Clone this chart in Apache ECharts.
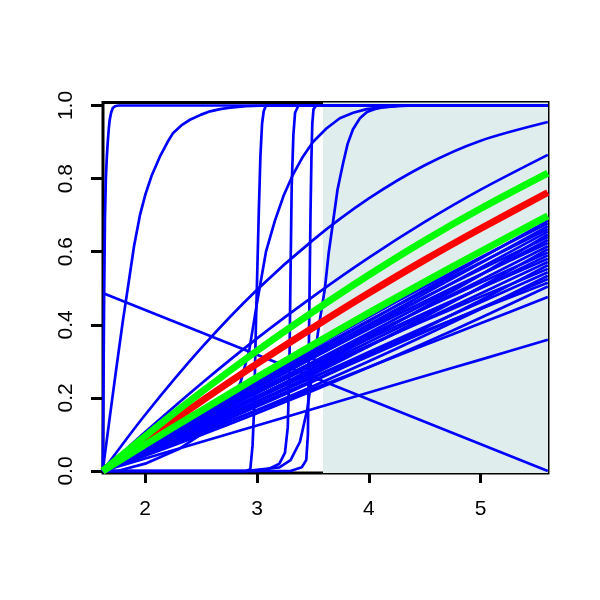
<!DOCTYPE html>
<html><head><meta charset="utf-8">
<script src="https://cdn.jsdelivr.net/npm/echarts@6/dist/echarts.min.js"></script>
<style>html,body{margin:0;padding:0;background:#fff}#c{width:600px;height:600px}</style>
</head><body><div id="c"></div>
<script>
// ---- axis ticks / ranges ----
const xTicks = [2, 3, 4, 5];
const yTicks = [0, 0.2, 0.4, 0.6, 0.8, 1.0];
const xMin = 1.6226, xMax = 5.6018;
const yMin = -0.0055, yMax = 1.0082;
const shadeFrom = 3.59;

// ---- near-linear fan of blue curves, sampled at fanX ----
const fanX = [1.62, 2.0, 2.5, 3.0, 3.5, 4.0, 4.5, 5.0, 5.6];
const blueFan = [
  [0, .0654, .1514, .2377, .3233, .4096, .4959, .5816, .685],
  [0, .0706, .1615, .2507, .3369, .4217, .5044, .5843, .678],
  [0, .0640, .1481, .2325, .3162, .4007, .4851, .5688, .670],
  [0, .0689, .1577, .2447, .3289, .4118, .4925, .5705, .662],
  [0, .0626, .1448, .2273, .3092, .3917, .4742, .5561, .655],
  [0, .0534, .1263, .2025, .2812, .3635, .4490, .5368, .647],
  [0, .0666, .1524, .2366, .3180, .3981, .4762, .5516, .640],
  [0, .0604, .1397, .2193, .2983, .3779, .4576, .5366, .632],
  [0, .0650, .1486, .2307, .3101, .3881, .4643, .5378, .624],
  [0, .0587, .1359, .2134, .2903, .3678, .4453, .5221, .615],
  [0, .0501, .1185, .1900, .2638, .3411, .4213, .5036, .607],
  [0, .0623, .1424, .2211, .2971, .3720, .4449, .5154, .598],
  [0, .0563, .1304, .2047, .2785, .3528, .4272, .5009, .590],
  [0, .0605, .1384, .2148, .2887, .3614, .4323, .5007, .581],
  [0, .0546, .1264, .1985, .2700, .3421, .4141, .4856, .572],
  [0, .0464, .1099, .1762, .2447, .3163, .3907, .4671, .563],
  [0, .0576, .1317, .2044, .2748, .3440, .4114, .4766, .553],
  [0, .0520, .1202, .1888, .2568, .3253, .3939, .4619, .544],
  [0, .0441, .1042, .1671, .2321, .3001, .3706, .4431, .534],
  [0, .0501, .1160, .1822, .2478, .3140, .3801, .4457, .525],
  [0, .0536, .1227, .1904, .2559, .3203, .3832, .4438, .515],
  [0, .0417, .0986, .1581, .2195, .2838, .3505, .4190, .505]
];
const blueN = [0, .0455, .1052, .1652, .2247, .2846, .3446, .4041, .476];
const blueO = [0, .0343, .0793, .1246, .1694, .2147, .2599, .3048, .359];
const blueH = [0, .1539, .3360, .4958, .6316, .7456, .8365, .9038, .955];
const blueI = [0, .1065, .2388, .3629, .4773, .5838, .6815, .7699, .865];
const redY = [0, .0838, .1905, .2937, .3920, .4868, .5776, .6635, .762];
const greenUpY = [0, .0954, .2152, .3290, .4355, .5364, .6308, .7181, .815];
const greenLowY = [0, .0721, .1651, .2564, .3451, .4325, .5179, .6006, .698];

// ---- descending line ----
const descX = [1.62, 5.6];
const descY = [0.487, 0];

// ---- steep / sigmoid blue curves ----
const stepAX = [1.62, 1.625, 1.632, 1.64, 1.648, 1.657, 1.665, 1.674, 1.682, 1.695, 1.71, 1.73, 1.76, 5.6];
const stepAY = [0, .15, .45, .69, .80, .86, .90, .935, .96, .98, .993, .998, 1, 1];
const stepBX = [1.62, 1.68, 1.74, 1.80, 1.854, 1.90, 1.953, 2.0, 2.06, 2.131, 2.2, 2.25, 2.33, 2.40, 2.5, 2.58, 2.67, 2.76, 2.9, 3.1, 5.6];
const stepBY = [0, .14, .277, .41, .52, .615, .70, .755, .81, .86, .9, .925, .947, .961, .975, .984, .99, .994, .998, 1, 1];
const stepCX = [1.62, 2.90, 2.94, 2.96, 2.975, 2.99, 3.0, 3.015, 3.03, 3.045, 3.06, 3.08, 5.6];
const stepCY = [0, 0, .005, .07, .18, .4, .52, .7, .86, .95, .985, 1, 1];
const stepDX = [1.62, 3.0, 3.1, 3.2, 3.25, 3.275, 3.29, 3.30, 3.31, 3.325, 3.34, 3.37, 5.6];
const stepDY = [0, 0, .005, .02, .05, .12, .3, .55, .78, .92, .98, 1, 1];
const stepEX = [1.62, 3.3, 3.4, 3.44, 3.455, 3.462, 3.47, 3.478, 3.486, 3.494, 3.505, 3.53, 5.6];
const stepEY = [0, 0, .01, .03, .1, .3, .5, .7, .85, .95, .99, 1, 1];
const stepFX = [1.62, 2.9, 3.2, 3.3, 3.384, 3.45, 3.50, 3.55, 3.607, 3.64, 3.679, 3.72, 3.768, 3.81, 3.858, 3.92, 3.983, 4.05, 4.12, 4.25, 4.4, 5.6];
const stepFY = [0, 0, .01, .03, .08, .17, .28, .39, .50, .595, .68, .77, .84, .895, .935, .965, .982, .99, .995, .998, 1, 1];
const stepGX = [1.62, 1.75, 2.0, 2.3, 2.5, 2.7, 2.85, 2.93, 3.0, 3.08, 3.16, 3.24, 3.32, 3.41, 3.5, 3.62, 3.74, 3.86, 3.98, 4.15, 4.3, 5.6];
const stepGY = [0, 0, .02, .06, .1, .16, .24, .33, .46, .6, .685, .755, .81, .86, .9, .937, .965, .98, .99, .996, 1, 1];

function pairs(xs, ys) { return xs.map((x, i) => [x, ys[i]]); }

const BLUE = '#0000FF', RED = '#FF0000', GREEN = '#00FF00';
const series = [];
// shaded region
series.push({
  type: 'line', data: [[shadeFrom, 0]], symbol: 'none', lineStyle: {width: 0}, z: 1, silent: true,
  markArea: {silent: true, itemStyle: {color: '#E0EDED'},
    data: [[{xAxis: shadeFrom, yAxis: yMin}, {xAxis: xMax, yAxis: yMax}]]}
});
function addLine(data, color, width, smooth, z) {
  series.push({type: 'line', data: data, symbol: 'none', showSymbol: false, smooth: smooth,
    lineStyle: {color: color, width: width, join: 'round'}, z: z, silent: true});
}
const BW = 2.7;
blueFan.forEach(ys => addLine(pairs(fanX, ys), BLUE, BW, 0.3, 3));
[blueN, blueO, blueH, blueI].forEach(ys => addLine(pairs(fanX, ys), BLUE, BW, 0.3, 3));
addLine(pairs(descX, descY), BLUE, BW, false, 3);
[[stepAX, stepAY], [stepBX, stepBY], [stepCX, stepCY], [stepDX, stepDY], [stepEX, stepEY],
 [stepFX, stepFY], [stepGX, stepGY]].forEach(p => addLine(pairs(p[0], p[1]), BLUE, BW, false, 3));
addLine(pairs(fanX, redY), RED, 7, 0.3, 4);
addLine(pairs(fanX, greenUpY), GREEN, 7, 0.3, 5);
addLine(pairs(fanX, greenLowY), GREEN, 7, 0.3, 5);

const labelFont = {fontSize: 21, color: '#000', fontFamily: 'Liberation Sans'};
const chart = echarts.init(document.getElementById('c'), null, {renderer: 'canvas'});
chart.setOption({
  animation: false,
  backgroundColor: '#fff',
  grid: {left: 103, right: 52, top: 102.5, bottom: 127, show: true, borderColor: '#000', borderWidth: 3,
    backgroundColor: 'transparent', containLabel: false},
  xAxis: {type: 'value', min: xMin, max: xMax,
    axisLine: {show: false}, splitLine: {show: false},
    axisTick: {show: true, length: 12, lineStyle: {width: 3, color: '#000'}, customValues: xTicks},
    axisLabel: Object.assign({customValues: xTicks, margin: 26, formatter: v => String(v)}, labelFont)},
  yAxis: {type: 'value', min: yMin, max: yMax,
    axisLine: {show: false}, splitLine: {show: false},
    axisTick: {show: true, length: 12, lineStyle: {width: 3, color: '#000'}, customValues: yTicks},
    axisLabel: Object.assign({customValues: yTicks, margin: 26, rotate: 90, formatter: v => v.toFixed(1)}, labelFont)},
  series: series
});
</script></body></html>
